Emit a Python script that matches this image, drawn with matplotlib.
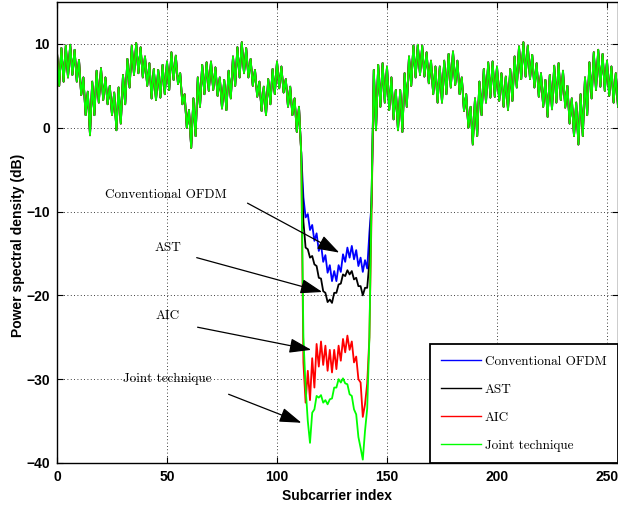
import numpy as np
import matplotlib
matplotlib.use("Agg")
import matplotlib.pyplot as plt

# --- datos ---
# fuera de la muesca: picos (x par) y valles (x impar), en dB
left_hi = [9.0, 9.5, 9.8, 9.9, 9.3, 8.1, 6.0, 4.3, 5.5, 6.8, 7.1, 6.0, 5.0, 4.2,
           4.8, 6.3, 8.2, 9.8, 10.1, 9.6, 8.5, 7.7, 7.0, 6.9, 7.5, 7.9, 9.0, 8.6,
           6.5, 4.0, 2.1, 3.5, 6.0, 7.5, 7.8, 7.9, 7.2, 6.0, 5.7, 6.8, 8.5, 9.6,
           10.2, 9.5, 8.2, 6.9, 5.5, 4.9, 5.8, 7.0, 7.9, 7.3, 5.8, 4.9, 3.5, 2.5]
left_lo = [5.0, 5.5, 6.0, 6.3, 5.5, 3.9, 1.5, -0.9, 1.5, 3.0, 3.3, 2.8, 1.5, -0.3,
           0.5, 2.8, 4.8, 6.3, 6.5, 6.0, 5.0, 3.5, 3.3, 3.6, 4.0, 4.5, 5.7, 5.2,
           2.8, 0.0, -2.4, -1.0, 2.5, 4.0, 4.4, 4.5, 3.8, 2.3, 2.1, 3.5, 5.0, 6.0,
           6.5, 6.0, 5.0, 3.7, 2.0, 1.5, 2.8, 4.0, 4.7, 4.2, 2.5, 1.5, -0.5, -3.0]
right_hi = [6.9, 7.5, 7.7, 7.3, 6.0, 4.5, 4.5, 6.5, 8.5, 9.8, 9.9, 9.8, 9.0, 8.0,
            7.3, 7.3, 8.0, 8.8, 9.1, 8.0, 6.0, 4.0, 2.5, 3.5, 5.5, 7.0, 7.8, 7.9,
            7.3, 6.5, 6.1, 7.0, 8.5, 9.7, 10.2, 9.8, 8.7, 7.7, 6.5, 5.7, 6.3, 7.4,
            7.7, 6.8, 5.0, 3.5, 3.0, 4.0, 6.0, 7.8, 9.0, 9.3, 8.8, 8.0, 7.3, 6.5]
right_lo = [-0.3, 2.5, 3.0, 2.1, 1.0, -0.3, -0.5, 2.5, 5.0, 6.0, 6.3, 6.1, 5.3, 4.0,
            3.0, 3.0, 4.0, 4.8, 5.1, 4.0, 2.0, 0.0, -2.0, -1.0, 1.5, 3.0, 3.6, 3.7,
            3.2, 2.5, 2.1, 3.2, 4.8, 5.8, 6.1, 5.8, 4.8, 3.7, 2.5, 1.3, 2.2, 3.0,
            3.3, 2.4, 0.5, -1.0, -2.0, -1.0, 1.5, 3.5, 4.5, 4.9, 4.4, 3.8, 3.0, 2.5]

# dentro de la muesca (subportadoras 112..143)
notch_ofdm = [-8.3, -10.7, -10.3, -12.2, -11.6, -13.5, -12.6, -14.7, -13.9, -16.0,
              -15.2, -17.3, -16.4, -18.3, -17.1, -18.3, -16.4, -17.2, -15.1, -16.0,
              -14.3, -15.5, -14.1, -15.7, -14.6, -16.5, -15.5, -17.2, -15.8, -16.8,
              -12.5, -9.0]
notch_ast = [-11.2, -14.3, -14.5, -15.5, -15.3, -16.3, -16.5, -17.9, -18.0, -19.5,
             -19.7, -20.8, -20.5, -20.9, -19.7, -19.7, -18.7, -18.6, -17.5, -17.7,
             -17.0, -17.5, -17.1, -18.1, -17.9, -18.9, -18.9, -20.0, -19.1, -19.1,
             -16.0, -8.0]
notch_aic = [-28.0, -32.8, -29.0, -32.5, -27.5, -31.0, -25.8, -28.5, -25.5, -28.3,
             -26.0, -29.0, -26.5, -29.2, -26.5, -28.8, -26.0, -27.8, -25.2, -26.8,
             -24.8, -26.5, -25.5, -28.0, -27.3, -30.0, -30.4, -34.5, -33.0, -30.5,
             -25.0, -10.0]
notch_joint = [-25.0, -31.0, -35.0, -37.6, -34.0, -33.6, -32.0, -32.2, -31.9, -32.8,
               -32.5, -33.0, -32.4, -32.3, -31.0, -31.0, -30.0, -30.4, -29.9, -30.5,
               -30.6, -31.8, -32.0, -33.6, -34.2, -36.9, -38.2, -39.6, -36.2, -33.5,
               -25.0, -8.0]

labels = ["Conventional OFDM", "AST", "AIC", "Joint technique"]
colors = ["#0000ff", "#000000", "#ff0000", "#00ff00"]

subcarrier = np.arange(256)


def armar(notch):
    izq = np.empty(112)
    izq[0::2] = left_hi
    izq[1::2] = left_lo
    der = np.empty(112)
    der[0::2] = right_hi
    der[1::2] = right_lo
    return np.concatenate([izq, notch, der])


series = [armar(n) for n in (notch_ofdm, notch_ast, notch_aic, notch_joint)]

# --- grafico ---
fig = plt.figure(figsize=(6.18, 5.07), dpi=100)
ax = fig.add_axes([57 / 618, 44 / 507, 561 / 618, 461 / 507])

for y, c, lab in zip(series, colors, labels):
    ax.plot(subcarrier, y, color=c, lw=1.3, label=lab)

ax.set_xlim(0, 255)
ax.set_ylim(-40, 15)
ax.set_xticks([0, 50, 100, 150, 200, 250])
ax.set_yticks([-40, -30, -20, -10, 0, 10])
ax.grid(True, color="k", linestyle=(0, (1, 3)), linewidth=0.6)
ax.tick_params(direction="in", top=True, right=True, length=4, width=0.8,
               labelsize=10, pad=5)
for t in ax.get_xticklabels() + ax.get_yticklabels():
    t.set_fontweight("bold")
    t.set_family("Liberation Sans")
for s in ax.spines.values():
    s.set_linewidth(1.0)

ax.set_xlabel("Subcarrier index", fontsize=10, fontweight="bold", family="Liberation Sans")
ax.set_ylabel("Power spectral density (dB)", fontsize=10, fontweight="bold",
              family="Liberation Sans")
ax.xaxis.set_label_coords(0.5, -0.056)
ax.yaxis.set_label_coords(-0.057, 0.473)

# flechas con etiquetas
notas = [
    ("Conventional OFDM", (49.4, -8.0), (86.6, -9.0), (128.3, -14.9)),
    ("AST", (50.3, -14.3), (63.5, -15.5), (120.6, -19.6)),
    ("AIC", (50.3, -22.5), (63.9, -23.8), (115.6, -26.5)),
    ("Joint technique", (49.9, -30.0), (78.0, -31.8), (111.1, -35.2)),
]
for txt, pos, ini, fin in notas:
    ax.text(pos[0], pos[1], txt, family="cmr10", fontsize=9.5, ha="center", va="center")
    ax.annotate("", xy=fin, xytext=ini,
                arrowprops=dict(arrowstyle="-|>,head_length=0.9,head_width=0.3",
                                color="k", lw=0.9, mutation_scale=15,
                                shrinkA=0, shrinkB=0))

leg = ax.legend(loc="lower right", borderaxespad=0, fancybox=False, framealpha=1,
                edgecolor="k", prop={"family": "cmr10", "size": 9.5},
                handlelength=3.0, handletextpad=0.3, labelspacing=1.2,
                borderpad=0.85)
leg.get_frame().set_linewidth(1.3)
for h in leg.get_lines():
    h.set_linewidth(1.0)

fig.savefig("out.png", dpi=100)
